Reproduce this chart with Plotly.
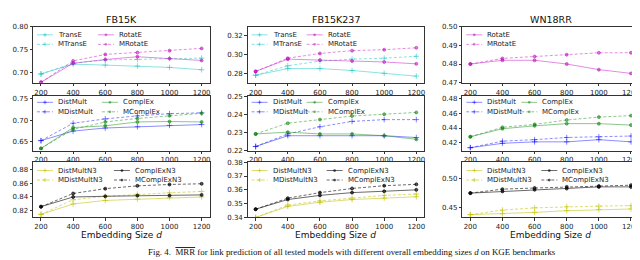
import plotly.graph_objects as go

# ---------------- data ----------------
dims = [200, 400, 600, 800, 1000, 1200]
tick_dims = [200, 400, 600, 800, 1000, 1200]
datasets = ["FB15K", "FB15K237", "WN18RR"]

fb15k_transe = [0.698, 0.719, 0.717, 0.715, 0.712, 0.707]
fb15k_mtranse = [0.698, 0.721, 0.728, 0.729, 0.731, 0.732]
fb15k_rotate = [0.680, 0.721, 0.729, 0.735, 0.731, 0.727]
fb15k_mrotate = [0.680, 0.726, 0.740, 0.744, 0.748, 0.753]
fb15k_distmult = [0.653, 0.675, 0.682, 0.685, 0.688, 0.690]
fb15k_mdistmult = [0.653, 0.693, 0.703, 0.710, 0.715, 0.717]
fb15k_complex = [0.635, 0.683, 0.687, 0.696, 0.697, 0.696]
fb15k_mcomplex = [0.635, 0.679, 0.696, 0.704, 0.710, 0.716]
fb15k_distmultn3 = [0.815, 0.830, 0.835, 0.837, 0.839, 0.840]
fb15k_mdistmultn3 = [0.815, 0.836, 0.841, 0.844, 0.846, 0.848]
fb15k_complexn3 = [0.826, 0.840, 0.841, 0.842, 0.842, 0.843]
fb15k_mcomplexn3 = [0.826, 0.845, 0.852, 0.856, 0.858, 0.859]

fb237_transe = [0.278, 0.285, 0.285, 0.283, 0.280, 0.277]
fb237_mtranse = [0.278, 0.288, 0.293, 0.295, 0.296, 0.298]
fb237_rotate = [0.282, 0.295, 0.294, 0.293, 0.292, 0.290]
fb237_mrotate = [0.282, 0.296, 0.301, 0.304, 0.305, 0.307]
fb237_distmult = [0.222, 0.228, 0.228, 0.228, 0.228, 0.227]
fb237_mdistmult = [0.222, 0.229, 0.233, 0.236, 0.237, 0.237]
fb237_complex = [0.229, 0.230, 0.229, 0.229, 0.228, 0.226]
fb237_mcomplex = [0.229, 0.235, 0.237, 0.239, 0.240, 0.241]
fb237_distmultn3 = [0.340, 0.348, 0.351, 0.353, 0.354, 0.355]
fb237_mdistmultn3 = [0.340, 0.349, 0.352, 0.354, 0.356, 0.357]
fb237_complexn3 = [0.346, 0.353, 0.356, 0.358, 0.359, 0.360]
fb237_mcomplexn3 = [0.346, 0.354, 0.358, 0.361, 0.363, 0.364]

wn_rotate = [0.480, 0.482, 0.482, 0.480, 0.477, 0.475]
wn_mrotate = [0.480, 0.483, 0.484, 0.485, 0.486, 0.486]
wn_distmult = [0.413, 0.419, 0.421, 0.421, 0.424, 0.421]
wn_mdistmult = [0.413, 0.422, 0.424, 0.427, 0.428, 0.429]
wn_complex = [0.428, 0.439, 0.443, 0.446, 0.446, 0.444]
wn_mcomplex = [0.428, 0.441, 0.445, 0.451, 0.455, 0.457]
wn_distmultn3 = [0.437, 0.4385, 0.441, 0.444, 0.446, 0.447]
wn_mdistmultn3 = [0.437, 0.445, 0.449, 0.451, 0.452, 0.453]
wn_complexn3 = [0.475, 0.478, 0.481, 0.483, 0.486, 0.486]
wn_mcomplexn3 = [0.475, 0.482, 0.484, 0.486, 0.4875, 0.489]

# ---------------- styles ----------------
C_CYAN = "rgba(0,191,191,0.5)"
C_MAG = "rgba(191,0,191,0.5)"
C_BLUE = "rgba(0,0,255,0.5)"
C_GREEN = "rgba(0,128,0,0.5)"
C_YEL = "rgba(191,191,0,0.6)"
C_BLK = "rgba(0,0,0,0.65)"

styles = {
    "TransE": (C_CYAN, "solid", "plus"),
    "MTransE": (C_CYAN, "3px,2px", "plus"),
    "RotatE": (C_MAG, "solid", "dot"),
    "MRotatE": (C_MAG, "3px,2px", "dot"),
    "DistMult": (C_BLUE, "solid", "plus"),
    "MDistMult": (C_BLUE, "3px,2px", "plus"),
    "ComplEx": (C_GREEN, "solid", "dot"),
    "MComplEx": (C_GREEN, "3px,2px", "dot"),
    "DistMultN3": (C_YEL, "solid", "plus"),
    "MDistMultN3": (C_YEL, "3px,2px", "plus"),
    "ComplExN3": (C_BLK, "solid", "dot"),
    "MComplExN3": (C_BLK, "3px,2px", "dot"),
}

panels = [
    # row, col, series, y-range, dtick, legend column-2 offset (px)
    (0, 0, [("TransE", fb15k_transe), ("MTransE", fb15k_mtranse),
            ("RotatE", fb15k_rotate), ("MRotatE", fb15k_mrotate)], [0.679, 0.80], 0.05, 84),
    (0, 1, [("TransE", fb237_transe), ("MTransE", fb237_mtranse),
            ("RotatE", fb237_rotate), ("MRotatE", fb237_mrotate)], [0.270, 0.3295], 0.02, 78),
    (0, 2, [("RotatE", wn_rotate), ("MRotatE", wn_mrotate)], [0.47, 0.50], 0.01, 78),
    (1, 0, [("DistMult", fb15k_distmult), ("MDistMult", fb15k_mdistmult),
            ("ComplEx", fb15k_complex), ("MComplEx", fb15k_mcomplex)], [0.630, 0.755], 0.05, 88),
    (1, 1, [("DistMult", fb237_distmult), ("MDistMult", fb237_mdistmult),
            ("ComplEx", fb237_complex), ("MComplEx", fb237_mcomplex)], [0.2197, 0.2500], 0.01, 78),
    (1, 2, [("DistMult", wn_distmult), ("MDistMult", wn_mdistmult),
            ("ComplEx", wn_complex), ("MComplEx", wn_mcomplex)], [0.409, 0.4835], 0.02, 78),
    (2, 0, [("DistMultN3", fb15k_distmultn3), ("MDistMultN3", fb15k_mdistmultn3),
            ("ComplExN3", fb15k_complexn3), ("MComplExN3", fb15k_mcomplexn3)], [0.8105, 0.890], 0.02, 100),
    (2, 1, [("DistMultN3", fb237_distmultn3), ("MDistMultN3", fb237_mdistmultn3),
            ("ComplExN3", fb237_complexn3), ("MComplExN3", fb237_mcomplexn3)], [0.3400, 0.3800], 0.01, 98),
    (2, 2, [("DistMultN3", wn_distmultn3), ("MDistMultN3", wn_mdistmultn3),
            ("ComplExN3", wn_complexn3), ("MComplExN3", wn_mcomplexn3)], [0.432, 0.5295], 0.05, 98),
]

# ---------------- layout geometry (pixels) ----------------
W, H = 640, 260
col_px = [(25, 202), (240, 417), (455, 632)]
row_px = [(15, 73), (87, 143), (155, 212)]
leg_y0 = [8.3, 6.0, 8.3]
leg_dy = 9.5

FONT = "DejaVu Sans"
tickfont = dict(family=FONT, size=7, color="#222")

fig = go.Figure()
layout = dict(
    width=W, height=H, margin=dict(l=0, r=0, t=0, b=0),
    paper_bgcolor="white", plot_bgcolor="white", showlegend=False,
)
shapes = []
annotations = []

for (r, c, series, yr, dt, leg2) in panels:
    k = r * 3 + c + 1
    sx = "" if k == 1 else str(k)
    xa, ya = "x" + sx, "y" + sx
    x0p, x1p = col_px[c]
    y0p, y1p = row_px[r]
    axcommon = dict(showline=True, mirror=True, linecolor="#333", linewidth=0.8,
                    ticks="outside", ticklen=2.5, tickwidth=0.7, tickcolor="#333",
                    showgrid=False, zeroline=False, tickfont=tickfont)
    layout["xaxis" + sx] = dict(domain=[x0p / W, x1p / W], anchor=ya, range=[150, 1250],
                                tickvals=tick_dims, **axcommon)
    layout["yaxis" + sx] = dict(domain=[1 - y1p / H, 1 - y0p / H], anchor=xa, range=yr,
                                dtick=dt, tick0=0, tickformat=".2f", **axcommon)
    for i, (name, vals) in enumerate(series):
        color, dash, sym = styles[name]
        msym = "cross-thin" if sym == "plus" else "circle"
        msize = 4 if sym == "plus" else 3
        fig.add_trace(go.Scatter(
            x=dims, y=vals, name=name, mode="lines+markers", xaxis=xa, yaxis=ya,
            line=dict(color=color, width=0.9, dash=dash),
            marker=dict(symbol=msym, size=msize, color=color, line=dict(color=color, width=1)),
        ))
        # legend entry (two columns, column-major like matplotlib ncol=2)
        lc, lr = i // 2, i % 2
        ox = 4 + (leg2 - 23) * lc
        oy = -(leg_y0[r] + leg_dy * lr)
        ref = dict(xref=xa + " domain", yref=ya + " domain", xsizemode="pixel",
                   ysizemode="pixel", xanchor=0, yanchor=1)
        shapes.append(dict(type="line", x0=ox, x1=ox + 16, y0=oy, y1=oy,
                           line=dict(color=color, width=0.9, dash=dash), **ref))
        mx = ox + 8
        if sym == "plus":
            shapes.append(dict(type="line", x0=mx - 2, x1=mx + 2, y0=oy, y1=oy,
                               line=dict(color=color, width=1), **ref))
            shapes.append(dict(type="line", x0=mx, x1=mx, y0=oy - 2, y1=oy + 2,
                               line=dict(color=color, width=1), **ref))
        else:
            shapes.append(dict(type="circle", x0=mx - 1.4, x1=mx + 1.4, y0=oy - 1.4, y1=oy + 1.4,
                               fillcolor=color, line=dict(width=0), **ref))
        annotations.append(dict(text=name, xref=xa + " domain", yref=ya + " domain",
                                x=0, y=1, xshift=ox + 19, yshift=oy, xanchor="left",
                                yanchor="middle", showarrow=False,
                                font=dict(family=FONT, size=7, color="#222")))
    if r == 0:
        annotations.append(dict(text=datasets[c], xref=xa + " domain", yref=ya + " domain",
                                x=0.5, y=1, yshift=7, xanchor="center", yanchor="middle",
                                showarrow=False, font=dict(family=FONT, size=9.5, color="#111")))
    if r == 2:
        annotations.append(dict(text="Embedding Size <i>d</i>", xref=xa + " domain",
                                yref=ya + " domain", x=0.5, y=0, yshift=-18,
                                xanchor="center", yanchor="middle", showarrow=False,
                                font=dict(family=FONT, size=9, color="#111")))

annotations.append(dict(
    text='Fig. 4.&nbsp;&nbsp;<span style="text-decoration:overline">MRR</span> for link prediction of all tested models with different overall embedding sizes <i>d</i> on KGE benchmarks',
    xref="paper", yref="paper", x=345 / W, y=1 - 248 / H, xanchor="center", yanchor="middle",
    showarrow=False, font=dict(family="Liberation Serif", size=8.9, color="#111")))

layout["shapes"] = shapes
layout["annotations"] = annotations
fig.update_layout(**layout)
fig.write_html("out.html")
